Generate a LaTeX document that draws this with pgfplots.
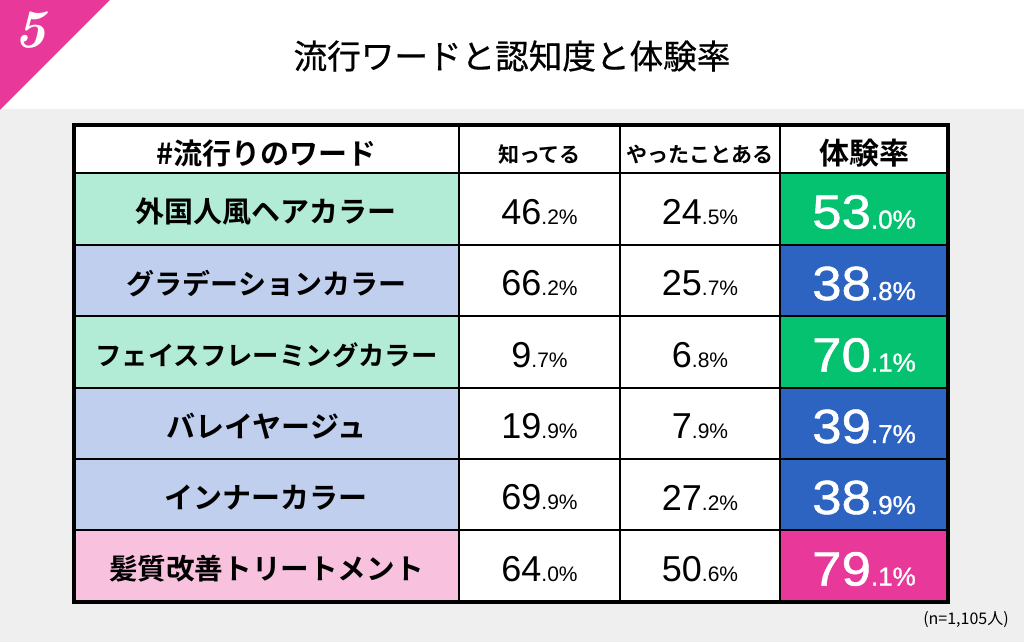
\documentclass[border=0pt]{standalone}
\usepackage{pgfplots}
\pgfplotsset{compat=1.18}
\usepackage{pgfplotstable}
\usepackage{fontspec}
\newfontfamily\jp[BoldFont={Noto Sans CJK JP Bold}]{Noto Sans CJK JP}
\newfontfamily\jpm[FakeBold=0.6]{Noto Sans CJK JP}
\newfontfamily\num{Liberation Sans}
\newfontfamily\numb[FakeBold=1]{Liberation Sans}

\definecolor{bg}{HTML}{EFEFEF}
\definecolor{pinkA}{HTML}{E8399A}
\definecolor{mintL}{HTML}{B2ECD6}
\definecolor{blueL}{HTML}{C0CFEE}
\definecolor{pinkL}{HTML}{F8C2DF}
\definecolor{greenS}{HTML}{05C271}
\definecolor{blueS}{HTML}{2D63C1}

% 46.2 -> big "46", small ".2%"
\def\splitA#1.#2\relax{{\num\fontsize{18}{20}\selectfont #1}{\num\fontsize{10.5}{12}\selectfont .#2\%}}
\def\splitB#1.#2\relax{{\numb\fontsize{24}{26}\selectfont\scalebox{1.1}[1]{#1}}{\numb\fontsize{13}{14}\selectfont .#2\%}}
\newcommand\pctA[1]{\edef\tmpv{#1}\expandafter\splitA\tmpv\relax}
\newcommand\pctB[1]{\edef\tmpv{#1}\expandafter\splitB\tmpv\relax}

\pgfplotstableread{
y known tried rate
212 46.2 24.5 53.0
283.5 66.2 25.7 38.8
355 9.7 6.8 70.1
426.5 19.9 7.9 39.7
497.5 69.9 27.2 38.9
569 64.0 50.6 79.1
}\datatable

\begin{document}
\begin{tikzpicture}
\begin{axis}[
    width=512pt, height=321pt, scale only axis,
    xmin=0, xmax=1024, ymin=0, ymax=642,
    y dir=reverse, hide axis, clip=false,
    point meta=explicit symbolic,
    every node near coord/.append style={anchor=center, inner sep=0pt},
]
% background
\fill[white] (0,0) rectangle (1024,642);
\fill[bg] (0,109) rectangle (1024,642);
\fill[pinkA] (0,0) -- (110,0) -- (0,110) -- cycle;
\node[text=white] at (30,30) {\fontsize{27}{29}\selectfont\bfseries\itshape 5};
\node at (512,56) {\jpm\fontsize{16.8}{18}\selectfont 流行ワードと認知度と体験率};

% table cells
\fill[white] (74,125) rectangle (948,602);
\fill[mintL]  (74,173) rectangle (459,245);
\fill[blueL]  (74,245) rectangle (459,316);
\fill[mintL]  (74,316) rectangle (459,388);
\fill[blueL]  (74,388) rectangle (459,459);
\fill[blueL]  (74,459) rectangle (459,530);
\fill[pinkL]  (74,530) rectangle (459,602);
\fill[greenS] (780,173) rectangle (948,245);
\fill[blueS]  (780,245) rectangle (948,316);
\fill[greenS] (780,316) rectangle (948,388);
\fill[blueS]  (780,388) rectangle (948,459);
\fill[blueS]  (780,459) rectangle (948,530);
\fill[pinkA]  (780,530) rectangle (948,602);
\draw[line width=1.2pt] (74,173) -- (948,173);
\draw[line width=1.2pt] (74,245) -- (948,245);
\draw[line width=1.2pt] (74,316) -- (948,316);
\draw[line width=1.2pt] (74,388) -- (948,388);
\draw[line width=1.2pt] (74,459) -- (948,459);
\draw[line width=1.2pt] (74,530) -- (948,530);
\draw[line width=1.2pt] (459,125) -- (459,602);
\draw[line width=1.2pt] (620,125) -- (620,602);
\draw[line width=1.2pt] (780,125) -- (780,602);
\draw[line width=1.7pt] (74,125) rectangle (948,602);

% header
\node at (266.5,153) {\jp\bfseries\fontsize{14.5}{16}\selectfont \#流行りのワード};
\node at (539.5,154) {\jp\bfseries\fontsize{10.5}{12}\selectfont 知ってる};
\node at (700,154) {\jp\bfseries\fontsize{10.5}{12}\selectfont やったことある};
\node at (864,153) {\jp\bfseries\fontsize{15}{16}\selectfont 体験率};

% row names
\node at (266.5,212)   {\jp\bfseries\fontsize{14.5}{16}\selectfont 外国人風ヘアカラー};
\node at (266.5,283.5) {\jp\bfseries\fontsize{14}{16}\selectfont グラデーションカラー};
\node at (266.5,355)   {\jp\bfseries\fontsize{13.2}{16}\selectfont フェイスフレーミングカラー};
\node at (266.5,426.5) {\jp\bfseries\fontsize{14.5}{16}\selectfont バレイヤージュ};
\node at (266.5,497.5) {\jp\bfseries\fontsize{14.5}{16}\selectfont インナーカラー};
\node at (266.5,569)   {\jp\bfseries\fontsize{14.3}{16}\selectfont 髪質改善トリートメント};

% values
\addplot[draw=none, mark=none, nodes near coords={\pctA{\pgfplotspointmeta}}]
  table[x expr=539.5, y=y, meta=known] {\datatable};
\addplot[draw=none, mark=none, nodes near coords={\pctA{\pgfplotspointmeta}}]
  table[x expr=700, y=y, meta=tried] {\datatable};
\addplot[draw=none, mark=none, nodes near coords={\pctB{\pgfplotspointmeta}},
  every node near coord/.append style={text=white}]
  table[x expr=864, y=y, meta=rate] {\datatable};

\node at (966,620) {\jp\fontsize{8}{9}\selectfont (n=1,105人)};
\end{axis}
\end{tikzpicture}
\end{document}
